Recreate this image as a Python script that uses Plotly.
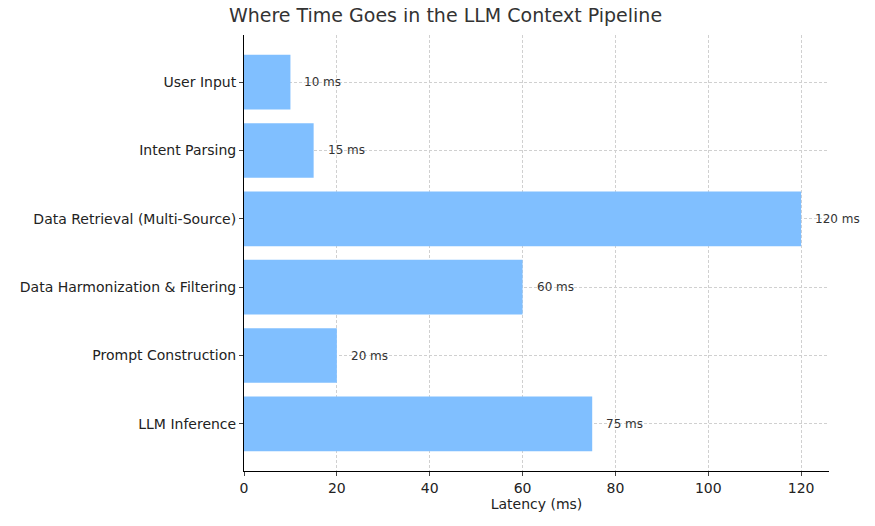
import plotly.graph_objects as go

stages = ["User Input", "Intent Parsing", "Data Retrieval (Multi-Source)",
          "Data Harmonization & Filtering", "Prompt Construction", "LLM Inference"]
latency = [10, 15, 120, 60, 20, 75]
labels = [f"{v} ms" for v in latency]

fig = go.Figure(go.Bar(
    y=stages, x=latency, orientation="h", width=0.8,
    marker=dict(color="#80bfff", line=dict(width=0)),
))
for s, v, t in zip(stages, latency, labels):
    fig.add_annotation(x=v, y=s, text=t, showarrow=False, xanchor="left",
                       xshift=12, font=dict(size=12, color="#333"))

fig.update_layout(
    width=875, height=526, plot_bgcolor="white", paper_bgcolor="white",
    margin=dict(l=234, r=54, t=27, b=63),
    title=dict(text="Where Time Goes in the LLM Context Pipeline", x=0.5, xanchor="center",
               y=0.998, yanchor="top", font=dict(size=19, color="#333", family="DejaVu Sans")),
    font=dict(family="DejaVu Sans", size=14, color="#222"),
    showlegend=False,
)
fig.update_xaxes(range=[0, 126], dtick=20, showline=True, linecolor="black", ticks="outside",
                 ticklen=4, showgrid=True, gridcolor="#d0d0d0", griddash="3px,2px",
                 title=dict(text="Latency (ms)", standoff=4, font=dict(size=14)), zeroline=False)
fig.update_yaxes(categoryorder="array", categoryarray=stages, autorange=False, range=[5.69, -0.69],
                 showline=True, linecolor="black", ticks="outside", ticklen=4,
                 showgrid=True, gridcolor="#d0d0d0", griddash="3px,2px")
fig.write_html("out.html")
